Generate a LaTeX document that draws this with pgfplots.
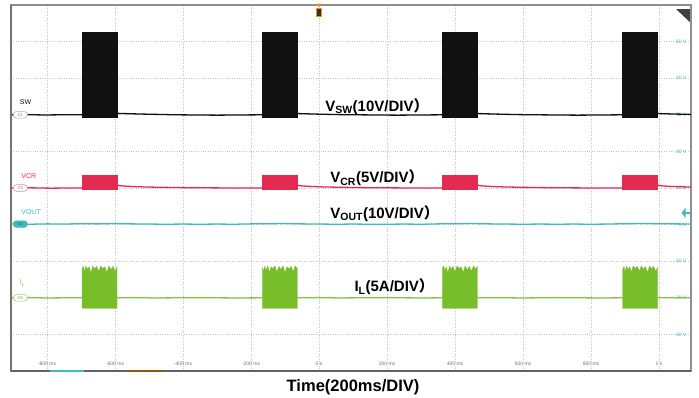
\documentclass[border=0pt]{standalone}
\usepackage{pgfplots}
\pgfplotsset{compat=1.18}
\usepackage{fontspec}
\setmainfont{Liberation Sans}
\newfontfamily\cjk{Noto Sans CJK SC}

\definecolor{swcol}{HTML}{111111}
\definecolor{crcol}{HTML}{E32A50}
\definecolor{outcol}{HTML}{3FBAC0}
\definecolor{ilcol}{HTML}{86C440}
\definecolor{ilfill}{HTML}{78BE2A}
\definecolor{gridcol}{HTML}{C4C4C4}
\definecolor{framecol}{HTML}{8E8E8E}
\definecolor{tickcol}{HTML}{707070}
\definecolor{voltcol}{HTML}{4FAFBD}
\definecolor{trigcol}{HTML}{F0901E}

\newcommand\annotfont{\bfseries\fontsize{15}{17}\selectfont}
\newcommand\chfont{\fontsize{7}{8}\selectfont}
\newcommand\tinyfont{\fontsize{5}{6}\selectfont}

\tikzset{pill/.style={draw=#1, fill=white, rounded corners=3pt, line width=0.6pt,
  minimum width=14pt, minimum height=6.5pt, inner sep=0pt,
  font=\fontsize{4}{4}\selectfont, text=tickcol, anchor=west}}

\begin{document}
\begin{tikzpicture}[x=1pt,y=1pt]
\path[use as bounding box] (-11,-26) rectangle (688,371);
\begin{axis}[
  at={(0,0)}, anchor=south west,
  scale only axis, width=680pt, height=366pt,
  xmin=-906, xmax=1094, ymin=-40, ymax=60,
  clip=false,
  xtick={-800,-600,...,1000},
  xticklabels={-800 ms,-600 ms,-400 ms,-200 ms,0 s,200 ms,400 ms,600 ms,800 ms,1 s},
  ytick={-30,-20,...,50},
  yticklabels={-30 V,-20 V,-10 V,0 V,10 V,20 V,30 V,40 V,50 V},
  yticklabel pos=right,
  major tick length=0pt,
  grid=major,
  major grid style={dotted, color=gridcol, line width=0.7pt},
  axis line style={draw=framecol, line width=1.3pt},
  xticklabel style={font=\tinyfont, text=tickcol, anchor=south, yshift=2pt},
  yticklabel style={font=\tinyfont, text=voltcol, anchor=east, xshift=-1pt},
  xlabel={Time(200ms/DIV)},
  xlabel style={at={(rel axis cs:0.503,0)}, anchor=base, yshift=-20pt,
    font=\bfseries\fontsize{16.5}{18}\selectfont},
]

% --- SW node (C1, 10 V/div, offset 30 V) ---
\addplot[swcol, line width=1.3pt] coordinates {
 (-906,30.0) (-860,30.05) (-810,29.95) (-760,30.0) (-697,30.0)
 (-594,30.4) (-560,30.3) (-520,30.2) (-470,30.1) (-420,30.0) (-360,29.95)
 (-300,29.9) (-240,29.95) (-167,30.0)
 (-64,30.35) (-30,30.25) (10,30.15) (60,30.05) (110,30.0) (170,29.95)
 (230,29.9) (300,29.95) (363,30.0)
 (466,30.35) (500,30.25) (540,30.15) (590,30.05) (640,30.0) (700,29.95)
 (760,29.9) (830,29.95) (893,30.0)
 (996,30.35) (1030,30.25) (1094,30.1)};
\addplot[fill=swcol, draw=swcol, line width=0.4pt] coordinates {(-697,29.4) (-697,52.7) (-594,52.7) (-594,29.4)} -- cycle;
\addplot[fill=swcol, draw=swcol, line width=0.4pt] coordinates {(-167,29.4) (-167,52.7) (-64,52.7) (-64,29.4)} -- cycle;
\addplot[fill=swcol, draw=swcol, line width=0.4pt] coordinates {(363,29.4) (363,52.7) (466,52.7) (466,29.4)} -- cycle;
\addplot[fill=swcol, draw=swcol, line width=0.4pt] coordinates {(893,29.4) (893,52.7) (996,52.7) (996,29.4)} -- cycle;

% --- VCR (C3, 5 V/div, offset 10 V) ---
\addplot[crcol, line width=1.3pt] coordinates {
 (-906,10.0) (-850,10.05) (-790,9.95) (-740,10.0) (-697,10.0)
 (-594,10.8) (-585,10.6) (-560,10.45) (-520,10.3) (-470,10.2) (-400,10.1)
 (-330,10.05) (-250,10.0) (-167,10.0)
 (-64,10.8) (-55,10.6) (-30,10.45) (10,10.3) (60,10.2) (130,10.1)
 (200,10.05) (280,10.0) (363,10.0)
 (466,10.8) (475,10.6) (500,10.45) (540,10.3) (590,10.2) (660,10.1)
 (730,10.05) (810,10.0) (893,10.0)
 (996,10.8) (1005,10.6) (1030,10.45) (1060,10.35) (1094,10.25)};
\addplot[fill=crcol, draw=crcol, line width=0.4pt] coordinates {(-697,9.8) (-697,13.4) (-594,13.4) (-594,9.8)} -- cycle;
\addplot[fill=crcol, draw=crcol, line width=0.4pt] coordinates {(-167,9.8) (-167,13.4) (-64,13.4) (-64,9.8)} -- cycle;
\addplot[fill=crcol, draw=crcol, line width=0.4pt] coordinates {(363,9.8) (363,13.4) (466,13.4) (466,9.8)} -- cycle;
\addplot[fill=crcol, draw=crcol, line width=0.4pt] coordinates {(893,9.8) (893,13.4) (996,13.4) (996,9.8)} -- cycle;

% --- VOUT (C2, 10 V/div, offset 0 V) ---
\addplot[outcol, line width=1.3pt] coordinates {
 (-906,0.15) (-850,0.1) (-800,0.2) (-750,0.15) (-700,0.25) (-650,0.2)
 (-600,0.3) (-550,0.2) (-500,0.15) (-450,0.1) (-400,0.15) (-350,0.1)
 (-300,0.15) (-250,0.1) (-200,0.2) (-150,0.25) (-100,0.3) (-50,0.2)
 (0,0.15) (50,0.1) (100,0.15) (150,0.1) (200,0.1) (250,0.15) (300,0.1)
 (350,0.2) (400,0.25) (450,0.3) (500,0.2) (550,0.15) (600,0.1) (650,0.15)
 (700,0.1) (750,0.15) (800,0.1) (850,0.15) (900,0.25) (950,0.3) (1000,0.25)
 (1050,0.2) (1094,0.15)};

% --- IL (C4, 5 A/div, offset -20) ---
\addplot[ilcol, line width=1.3pt] coordinates {
 (-906,-20.0) (-850,-19.95) (-800,-20.05) (-750,-20.0) (-697,-20.0)
 (-594,-20.0) (-540,-19.95) (-480,-20.05) (-420,-20.0) (-360,-19.95)
 (-300,-20.0) (-240,-20.05) (-167,-20.0)
 (-64,-20.0) (0,-19.95) (60,-20.05) (120,-20.0) (180,-19.95) (240,-20.0)
 (300,-20.05) (363,-20.0)
 (466,-20.0) (530,-19.95) (590,-20.05) (650,-20.0) (710,-19.95) (770,-20.0)
 (830,-20.05) (893,-20.0)
 (996,-20.0) (1040,-19.95) (1094,-20.0)};
\addplot[fill=ilfill, draw=ilfill, line width=0.3pt] coordinates {
 (-697,-22.9) (-697,-12.0) (-693,-11.4) (-690,-12.9) (-686,-11.3) (-681,-12.2)
 (-676,-11.5) (-671,-13.2) (-666,-11.3) (-660,-12.1) (-654,-11.4) (-648,-12.8)
 (-642,-11.3) (-636,-12.0) (-630,-11.5) (-624,-13.0) (-618,-11.3) (-612,-12.3)
 (-606,-11.4) (-600,-12.7) (-594,-11.6) (-594,-22.9)} -- cycle;
\addplot[fill=ilfill, draw=ilfill, line width=0.3pt] coordinates {
 (-167,-22.9) (-167,-11.8) (-163,-12.7) (-160,-11.4) (-156,-12.4) (-151,-11.3)
 (-146,-13.1) (-141,-11.5) (-136,-12.0) (-130,-11.3) (-124,-12.9) (-118,-11.4)
 (-112,-12.2) (-106,-11.3) (-100,-13.0) (-94,-11.5) (-88,-12.1) (-82,-11.4)
 (-76,-12.8) (-70,-11.3) (-64,-12.0) (-64,-22.9)} -- cycle;
\addplot[fill=ilfill, draw=ilfill, line width=0.3pt] coordinates {
 (363,-22.9) (363,-11.9) (367,-11.3) (370,-12.6) (374,-11.5) (379,-13.1)
 (384,-11.3) (389,-12.2) (394,-11.4) (400,-12.9) (406,-11.3) (412,-12.0)
 (418,-11.5) (424,-13.0) (430,-11.3) (436,-12.4) (442,-11.4) (448,-12.8)
 (454,-11.3) (460,-12.1) (466,-11.5) (466,-22.9)} -- cycle;
\addplot[fill=ilfill, draw=ilfill, line width=0.3pt] coordinates {
 (893,-22.9) (893,-12.2) (897,-11.4) (900,-12.9) (904,-11.3) (909,-12.3)
 (914,-11.5) (919,-13.0) (924,-11.3) (930,-12.0) (936,-11.4) (942,-12.7)
 (948,-11.3) (954,-12.2) (960,-11.5) (966,-13.1) (972,-11.3) (978,-12.1)
 (984,-11.4) (990,-12.8) (996,-11.7) (996,-22.9)} -- cycle;

% darker left and bottom edges of the screen frame
\draw[color=black!55, line width=1.6pt] (rel axis cs:0,0) -- (rel axis cs:0,1);
\draw[color=black!62, line width=2.2pt] (rel axis cs:0,0) -- (rel axis cs:1,0);
\draw[color=outcol, line width=1.6pt] (axis cs:-790,-40) -- (axis cs:-690,-40);
\draw[color=trigcol!60!black, line width=1.6pt] (axis cs:-560,-40) -- (axis cs:-460,-40);

% channel names
\node[anchor=base west, font=\chfont, text=swcol] at (axis cs:-890,32.7) {SW};
\node[anchor=base west, font=\chfont, text=crcol] at (axis cs:-886,12.6) {VCR};
\node[anchor=base west, font=\chfont, text=outcol] at (axis cs:-886,2.8) {VOUT};
\node[anchor=base west, font=\chfont, text=ilcol] at (axis cs:-890,-16.5) {I\textsubscript{L}};

% channel offset markers
\node[pill=gray!60] at (axis cs:-900,30) {C1};
\node[pill=crcol!55] at (axis cs:-900,10) {C3};
\node[pill=outcol, fill=outcol] at (axis cs:-900,0.15) {\color{black!70}C2};
\node[pill=ilcol!80] at (axis cs:-900,-20) {C4};

% scale annotations
\node[anchor=base west, font=\annotfont] at (axis cs:8,31.0) {V\textsubscript{SW}(10V/DIV{\cjk ）}};
\node[anchor=base west, font=\annotfont] at (axis cs:23,11.4) {V\textsubscript{CR}(5V/DIV{\cjk ）}};
\node[anchor=base west, font=\annotfont] at (axis cs:23,1.8) {V\textsubscript{OUT}(10V/DIV{\cjk ）}};
\node[anchor=base west, font=\annotfont] at (axis cs:94,-18.4) {I\textsubscript{L}(5A/DIV{\cjk ）}};

% trigger marker, corner flag and level arrow
\fill[trigcol] (axis cs:-7,60.4) -- (axis cs:7,60.4) -- (axis cs:0,59.3) -- cycle;
\node[fill=black!80, draw=trigcol, line width=0.4pt, minimum width=5pt, minimum height=8pt,
  inner sep=0pt, anchor=north] at (axis cs:0,59.2) {};
\fill[black!75] (axis cs:1050,58.9) -- (axis cs:1091,58.9) -- (axis cs:1091,55.3) -- cycle;
\fill[outcol] (axis cs:1066,3.2) -- (axis cs:1078,4.6) -- (axis cs:1078,1.8) -- cycle;
\draw[outcol, line width=1.4pt] (axis cs:1076,3.2) -- (axis cs:1090,3.2);
\end{axis}
\end{tikzpicture}
\end{document}
